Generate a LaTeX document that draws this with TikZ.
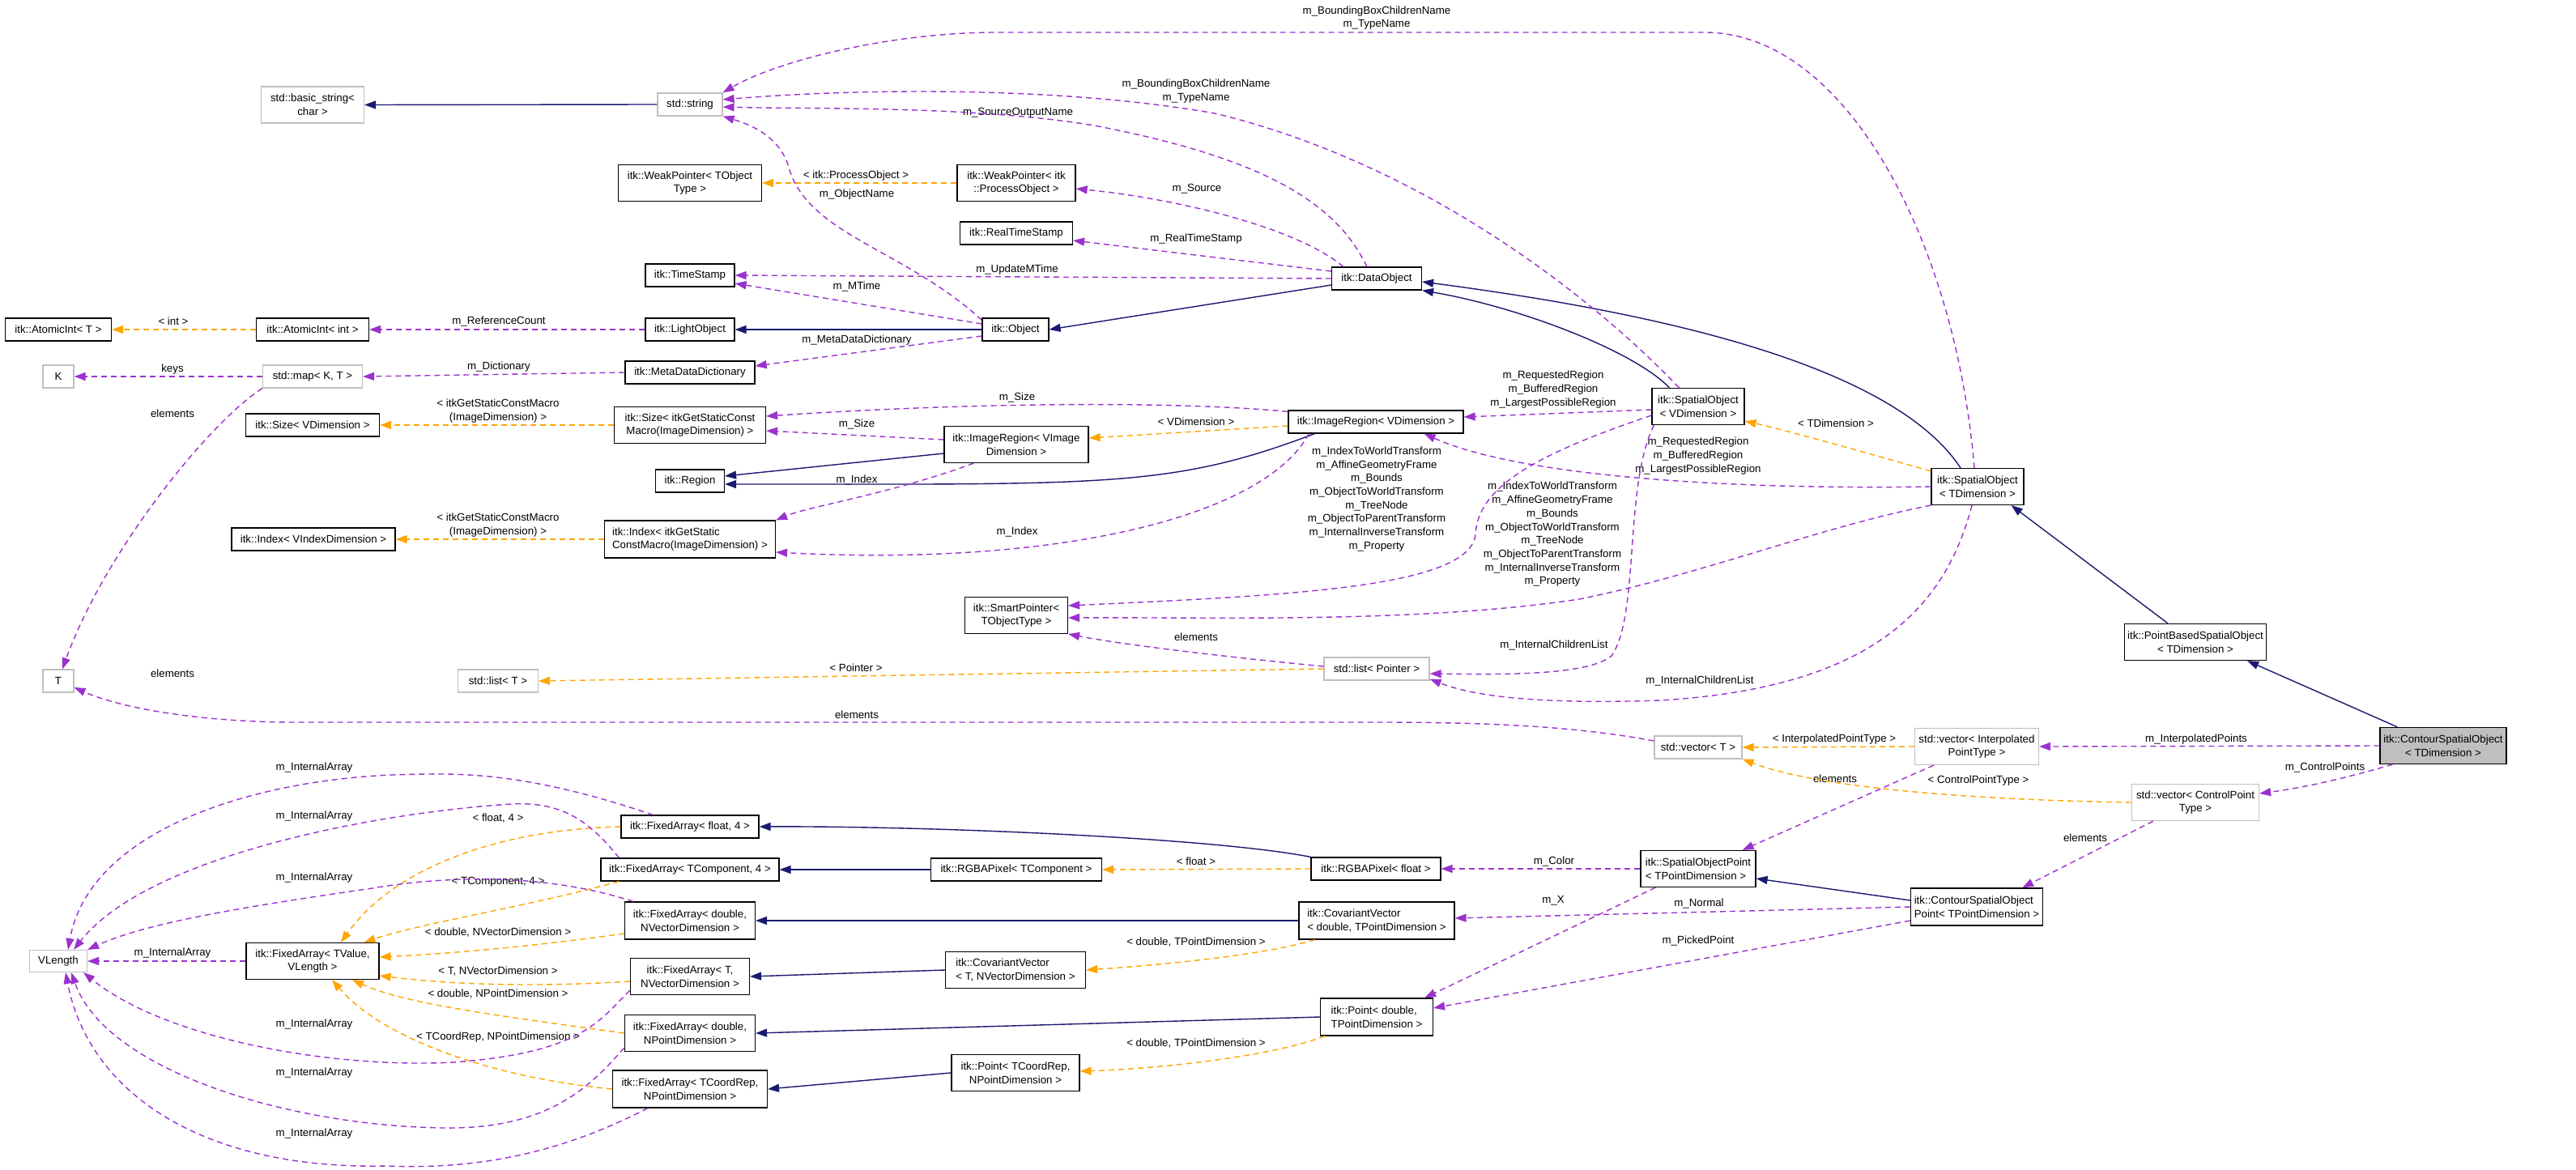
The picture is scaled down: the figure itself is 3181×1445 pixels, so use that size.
\documentclass[tikz,border=0pt]{standalone}
\usepackage{fontspec}
\setmainfont{Liberation Sans}
\usetikzlibrary{arrows.meta,calc}
\definecolor{navy}{HTML}{191970}
\definecolor{orng}{HTML}{FFA500}
\definecolor{purp}{HTML}{9A32CD}
\definecolor{gb}{HTML}{BFBFBF}
\newcommand\cls[6][]{\node[box,#1,minimum width=#4pt,minimum height=#5pt] (#2) at (#3) {#6};}
\newcommand\lbl[3]{\node[lab] (#1) at (#2) {#3};}
\begin{document}
\begin{tikzpicture}[x=1pt,y=-1pt,
  font=\fontsize{13.3}{16.7}\selectfont,
  box/.style={draw=black,line width=1.2pt,inner sep=0pt,align=center,fill=white},
  gbox/.style={draw=gb},
  lft/.style={align=left},
  lab/.style={inner sep=0pt,align=center},
  tip/.style={-{Triangle[length=14pt,width=10pt]}},
  inh/.style={draw=navy,line width=1.4pt,tip},
  tpl/.style={draw=orng,line width=1.4pt,dash pattern=on 7pt off 5pt,tip},
  usg/.style={draw=purp,line width=1.4pt,dash pattern=on 7pt off 5pt,tip}]
\fill[white] (0,0) rectangle (3181,1445);
\useasboundingbox (0,0) rectangle (3181,1445);

% nodes
\cls[gbox]{bstr}{386,129.5}{127}{45}{std::basic\_string<\\char >}
\cls[gbox]{str}{852,129}{80}{28}{std::string}
\cls{wpT}{852,226}{177}{45}{itk::WeakPointer< TObject\\Type >}
\cls{wpP}{1255,226}{146}{45}{itk::WeakPointer< itk\\::ProcessObject >}
\cls{rts}{1255,288}{139}{28}{itk::RealTimeStamp}
\cls{ts}{852,340}{110}{28}{itk::TimeStamp}
\cls{dobj}{1700,344}{111}{28}{itk::DataObject}
\cls{aiT}{72,407}{131}{28}{itk::AtomicInt< T >}
\cls{aiI}{386,407}{139}{28}{itk::AtomicInt< int >}
\cls{lo}{852,407}{110}{28}{itk::LightObject}
\cls{obj}{1254,407}{82}{28}{itk::Object}
\cls[gbox]{K}{72,465}{38}{28}{K}
\cls[gbox]{map}{386,465}{123}{28}{std::map< K, T >}
\cls{mdd}{852,460}{160}{28}{itk::MetaDataDictionary}
\cls{soV}{2097,502}{114}{45}{itk::SpatialObject\\< VDimension >}
\cls{sizeV}{386,525}{165}{28}{itk::Size< VDimension >}
\cls{sizeM}{852,525}{187}{45}{itk::Size< itkGetStaticConst\\Macro(ImageDimension) >}
\cls{irV}{1699,521}{216}{28}{itk::ImageRegion< VDimension >}
\cls{irI}{1255,549}{178}{45}{itk::ImageRegion< VImage\\Dimension >}
\cls{region}{852,594}{85}{28}{itk::Region}
\cls{soT}{2442,601}{114}{45}{itk::SpatialObject\\< TDimension >}
\cls{idxV}{387,666}{202}{28}{itk::Index< VIndexDimension >}
\cls[lft]{idxM}{852,666}{211}{46}{itk::Index< itkGetStatic\\ConstMacro(ImageDimension) >}
\cls{sp}{1255,760}{127}{45}{itk::SmartPointer<\\TObjectType >}
\cls{pbso}{2711,793}{175}{45}{itk::PointBasedSpatialObject\\< TDimension >}
\cls[gbox]{lstP}{1700,826}{130}{28}{std::list< Pointer >}
\cls[gbox]{T}{72,841}{38}{28}{T}
\cls[gbox]{lstT}{615,841}{99}{28}{std::list< T >}
\cls[gbox]{vecT}{2097,923}{108}{28}{std::vector< T >}
\cls[gbox]{vecI}{2441,922}{153}{45}{std::vector< Interpolated\\PointType >}
\cls[fill=gb]{cso}{3017,921}{156}{45}{itk::ContourSpatialObject\\< TDimension >}
\cls[gbox]{vecC}{2711,991}{157}{45}{std::vector< ControlPoint\\Type >}
\cls{fa4}{852,1021}{170}{28}{itk::FixedArray< float, 4 >}
\cls{faTC}{852,1074}{220}{28}{itk::FixedArray< TComponent, 4 >}
\cls{rgbT}{1255,1074}{211}{28}{itk::RGBAPixel< TComponent >}
\cls{rgbF}{1699,1073}{160}{28}{itk::RGBAPixel< float >}
\cls[lft]{sop}{2097,1073}{142}{45}{itk::SpatialObjectPoint\\< TPointDimension >}
\cls{faDV}{852,1137}{161}{46}{itk::FixedArray< double,\\NVectorDimension >}
\cls[lft]{cvD}{1700,1137}{192}{46}{itk::CovariantVector\\< double, TPointDimension >}
\cls[lft]{csop}{2441,1120}{163}{46}{itk::ContourSpatialObject\\Point< TPointDimension >}
\cls[gbox]{VLength}{72,1187}{71}{27}{VLength}
\cls{faTV}{386,1187}{164}{45}{itk::FixedArray< TValue,\\VLength >}
\cls[lft]{cvT}{1254,1198}{173}{45}{itk::CovariantVector\\< T, NVectorDimension >}
\cls{faTN}{852,1206}{147}{45}{itk::FixedArray< T,\\NVectorDimension >}
\cls[lft]{ptD}{1700,1256}{139}{46}{itk::Point< double,\\TPointDimension >}
\cls{faDP}{852,1276}{161}{45}{itk::FixedArray< double,\\NPointDimension >}
\cls{ptC}{1254,1325}{158}{45}{itk::Point< TCoordRep,\\NPointDimension >}
\cls{faCP}{852,1345}{191}{46}{itk::FixedArray< TCoordRep,\\NPointDimension >}

% labels
\lbl{la}{1700,22}{m\_BoundingBoxChildrenName\\m\_TypeName}
\lbl{lb}{1477,112.5}{m\_BoundingBoxChildrenName\\m\_TypeName}
\lbl{lc}{1257,139}{m\_SourceOutputName}
\lbl{ld1}{1057,217}{< itk::ProcessObject >}
\lbl{ld2}{1058,240}{m\_ObjectName}
\lbl{le}{1478,233}{m\_Source}
\lbl{lf}{1477,295}{m\_RealTimeStamp}
\lbl{lg}{1256,333}{m\_UpdateMTime}
\lbl{lh}{1058,354}{m\_MTime}
\lbl{li1}{214,397}{< int >}
\lbl{li2}{616,397}{m\_ReferenceCount}
\lbl{lj}{1058,420}{m\_MetaDataDictionary}
\lbl{lk}{213,456}{keys}
\lbl{ll}{616,453}{m\_Dictionary}
\lbl{lm}{1918,481}{m\_RequestedRegion\\m\_BufferedRegion\\m\_LargestPossibleRegion}
\lbl{ln}{1256,491}{m\_Size}
\lbl{lo2}{213,511}{elements}
\lbl{lp}{615,507.5}{< itkGetStaticConstMacro\\(ImageDimension) >}
\lbl{lq}{1058,524}{m\_Size}
\lbl{lr}{1477,521}{< VDimension >}
\lbl{ls}{2267,523}{< TDimension >}
\lbl{lt}{2097,563}{m\_RequestedRegion\\m\_BufferedRegion\\m\_LargestPossibleRegion}
\lbl{lu}{1058,593}{m\_Index}
\lbl{lv}{615,648.5}{< itkGetStaticConstMacro\\(ImageDimension) >}
\lbl{lw}{1256,657}{m\_Index}
\lbl{lx}{1700,616.5}{m\_IndexToWorldTransform\\m\_AffineGeometryFrame\\m\_Bounds\\m\_ObjectToWorldTransform\\m\_TreeNode\\m\_ObjectToParentTransform\\m\_InternalInverseTransform\\m\_Property}
\lbl{ly}{1917,660}{m\_IndexToWorldTransform\\m\_AffineGeometryFrame\\m\_Bounds\\m\_ObjectToWorldTransform\\m\_TreeNode\\m\_ObjectToParentTransform\\m\_InternalInverseTransform\\m\_Property}
\lbl{lz}{1477,787}{elements}
\lbl{laa}{1919,797}{m\_InternalChildrenList}
\lbl{lab}{1057,825}{< Pointer >}
\lbl{lac}{213,832}{elements}
\lbl{lad}{2099,841}{m\_InternalChildrenList}
\lbl{lae}{1058,883}{elements}
\lbl{laf}{2712,913}{m\_InterpolatedPoints}
\lbl{lag}{2265,913}{< InterpolatedPointType >}
\lbl{lah}{2871,948}{m\_ControlPoints}
\lbl{lai}{388,948}{m\_InternalArray}
\lbl{laj}{2266,962}{elements}
\lbl{lak}{2443,964}{< ControlPointType >}
\lbl{lal}{388,1008}{m\_InternalArray}
\lbl{lam}{615,1011}{< float, 4 >}
\lbl{lan}{2575,1035}{elements}
\lbl{lao}{1477,1064}{< float >}
\lbl{lap}{1919,1064}{m\_Color}
\lbl{laq}{388,1084}{m\_InternalArray}
\lbl{lar}{615,1089}{< TComponent, 4 >}
\lbl{las}{1918,1112}{m\_X}
\lbl{lat}{2098,1116}{m\_Normal}
\lbl{lau}{615,1152}{< double, NVectorDimension >}
\lbl{lav}{2097,1162}{m\_PickedPoint}
\lbl{law}{1477,1164}{< double, TPointDimension >}
\lbl{lax}{213,1177}{m\_InternalArray}
\lbl{lay}{615,1200}{< T, NVectorDimension >}
\lbl{laz}{615,1228}{< double, NPointDimension >}
\lbl{lba}{388,1265}{m\_InternalArray}
\lbl{lbb}{615,1281}{< TCoordRep, NPointDimension >}
\lbl{lbc}{1477,1289}{< double, TPointDimension >}
\lbl{lbd}{388,1325}{m\_InternalArray}
\lbl{lbe}{388,1400}{m\_InternalArray}

% inheritance
\draw[inh] (str.west) -- (bstr.east);
\draw[inh] (obj.west) -- (lo.east);
\draw[inh] ($(dobj.west)+(0,8)$) -- (obj.east);
\draw[inh] ($(soV.north west)+(22,0)$) .. controls (2020,435) and (1880,380) .. (dobj.south east);
\draw[inh] ($(soT.north)+(-21,0)$) .. controls (2330,440) and (2000,380) .. ($(dobj.east)+(0,4)$);
\draw[inh] ($(pbso.north)+(-34,0)$) -- ($(soT.south east)+(-16,0)$);
\draw[inh] ($(cso.north west)+(22,0)$) -- ($(pbso.south east)+(-24,0)$);
\draw[inh] ($(irI.west)+(0,11)$) -- ($(region.east)+(0,-6)$);
\draw[inh] ($(irV.south west)+(33,0)$) .. controls (1480,590) and (1400,597) .. (1140,598) -- ($(region.east)+(0,4)$);
\draw[inh] (rgbT.west) -- (faTC.east);
\draw[inh] (rgbF.north west) .. controls (1500,1035) and (1150,1020) .. (fa4.east);
\draw[inh] (cvD.west) -- (faDV.east);
\draw[inh] (cvT.west) -- (faTN.east);
\draw[inh] (ptD.west) -- (faDP.east);
\draw[inh] (ptC.west) -- (faCP.east);
\draw[inh] ($(csop.west)+(0,-8)$) -- ($(sop.east)+(0,12)$);

% template instances
\draw[tpl] (wpP.west) -- (wpT.east);
\draw[tpl] (aiI.west) -- (aiT.east);
\draw[tpl] (sizeM.west) -- (sizeV.east);
\draw[tpl] (idxM.west) -- (idxV.east);
\draw[tpl] ($(irV.west)+(0,5)$) -- ($(irI.east)+(0,-8)$);
\draw[tpl] ($(soT.north west)+(0,4)$) .. controls (2290,555) and (2200,530) .. ($(soV.south east)+(0,-5)$);
\draw[tpl] (lstP.west) -- (lstT.east);
\draw[tpl] (vecI.west) -- (vecT.east);
\draw[tpl] (vecC.west) .. controls (2450,988) and (2250,975) .. (vecT.south east);
\draw[tpl] (rgbF.west) -- (rgbT.east);
\draw[tpl] ($(cvD.south west)+(20,0)$) .. controls (1560,1180) and (1430,1192) .. (cvT.east);
\draw[tpl] ($(ptD.south west)+(6,0)$) .. controls (1570,1305) and (1430,1320) .. ($(ptC.east)+(0,-2)$);
\draw[tpl] (fa4.west) .. controls (600,1025) and (480,1080) .. ($(faTV.north)+(35,0)$);
\draw[tpl] ($(faTC.south west)+(23,0)$) .. controls (650,1120) and (520,1140) .. ($(faTV.north east)+(-19,0)$);
\draw[tpl] ($(faDV.west)+(0,16)$) .. controls (650,1170) and (550,1178) .. ($(faTV.east)+(0,-5)$);
\draw[tpl] ($(faTN.west)+(0,6)$) .. controls (650,1220) and (550,1215) .. ($(faTV.east)+(0,18)$);
\draw[tpl] (faDP.west) .. controls (620,1255) and (500,1240) .. ($(faTV.south)+(49,0)$);
\draw[tpl] (faCP.west) .. controls (600,1330) and (470,1280) .. ($(faTV.south)+(24,0)$);

% usage
\draw[usg] ($(soT.north)+(-4,0)$) .. controls (2415,300) and (2280,40) .. (2105,40) -- (1231,40) .. controls (1100,40) and (960,75) .. (str.north east);
\draw[usg] ($(soV.north west)+(34,0)$) .. controls (1960,360) and (1750,200) .. (1500,140) .. controls (1300,105) and (1050,110) .. ($(str.east)+(0,-6)$);
\draw[usg] ($(dobj.north west)+(44,0)$) .. controls (1650,250) and (1560,195) .. (1351,155) .. controls (1200,130) and (1000,135) .. ($(str.east)+(0,3)$);
\draw[usg] ($(obj.north west)+(0,3)$) .. controls (1120,310) and (1000,290) .. (975,210) .. controls (965,170) and (930,155) .. (str.south east);
\draw[usg] ($(dobj.north west)+(15,0)$) .. controls (1600,280) and (1450,245) .. ($(wpP.east)+(0,7)$);
\draw[usg] ($(dobj.west)+(0,-9)$) -- ($(rts.east)+(0,9)$);
\draw[usg] (dobj.west) -- (ts.east);
\draw[usg] ($(obj.west)+(0,-7)$) -- ($(ts.east)+(0,10)$);
\draw[usg] ($(obj.west)+(0,8)$) -- ($(mdd.east)+(0,-8)$);
\draw[usg] (lo.west) -- (aiI.east);
\draw[usg] (mdd.west) -- (map.east);
\draw[usg] (map.west) -- (K.east);
\draw[usg] (map.south west) .. controls (260,520) and (130,680) .. ($(T.north)+(5,0)$);
\draw[usg] ($(irV.north west)+(0,2)$) .. controls (1450,495) and (1200,497) .. ($(sizeM.east)+(0,-11)$);
\draw[usg] ($(irI.west)+(0,-6)$) -- ($(sizeM.east)+(0,7)$);
\draw[usg] ($(irI.south west)+(37,0)$) .. controls (1100,610) and (1000,625) .. (idxM.north east);
\draw[usg] ($(irV.south west)+(26,0)$) .. controls (1560,640) and (1300,700) .. ($(idxM.east)+(0,16)$);
\draw[usg] ($(soV.west)+(0,4)$) -- ($(irV.east)+(0,-6)$);
\draw[usg] (soT.west) .. controls (2150,605) and (1880,590) .. ($(irV.south east)+(-49,0)$);
\draw[usg] ($(soV.west)+(0,11)$) .. controls (1900,560) and (1825,600) .. (1822,660) .. controls (1815,725) and (1600,735) .. ($(sp.east)+(0,-12)$);
\draw[usg] (soT.south west) .. controls (2250,650) and (2100,710) .. (1950,740) .. controls (1750,770) and (1500,762) .. ($(sp.east)+(0,3)$);
\draw[usg] ($(soV.south west)+(3,0)$) .. controls (2005,600) and (2025,760) .. (1990,810) .. controls (1960,835) and (1850,833) .. ($(lstP.east)+(0,6)$);
\draw[usg] ($(soT.south)+(-7,0)$) .. controls (2400,760) and (2300,850) .. (2050,865) .. controls (1900,870) and (1820,860) .. ($(lstP.south east)+(0,-2)$);
\draw[usg] ($(lstP.west)+(0,-3)$) .. controls (1500,810) and (1380,795) .. (sp.south east);
\draw[usg] ($(vecT.west)+(0,-8)$) .. controls (1950,898) and (1850,892) .. (1700,892) -- (365,892) .. controls (250,892) and (150,875) .. ($(T.east)+(0,8)$);
\draw[usg] (cso.west) -- (vecI.east);
\draw[usg] ($(cso.south west)+(16,0)$) .. controls (2900,960) and (2850,972) .. ($(vecC.east)+(0,-11)$);
\draw[usg] ($(vecI.south west)+(24,0)$) -- ($(sop.north east)+(-17,0)$);
\draw[usg] ($(vecC.south west)+(27,0)$) -- ($(csop.north east)+(-26,0)$);
\draw[usg] (sop.west) -- (rgbF.east);
\draw[usg] ($(sop.south west)+(19,0)$) -- ($(ptD.north east)+(-11,0)$);
\draw[usg] (csop.west) -- ($(cvD.east)+(0,-3)$);
\draw[usg] ($(csop.west)+(0,17)$) -- ($(ptD.east)+(0,-11)$);
\draw[usg] (faTV.west) -- (VLength.east);
\draw[usg] ($(fa4.north west)+(40,0)$) .. controls (640,950) and (560,955) .. (484,957) .. controls (300,965) and (110,1030) .. ($(VLength.north)+(12,0)$);
\draw[usg] ($(faTC.north west)+(23,0)$) .. controls (725,1010) and (690,990) .. (631,993) .. controls (450,1005) and (180,1060) .. ($(VLength.north)+(19,0)$);
\draw[usg] ($(faDV.north west)+(11,0)$) .. controls (680,1080) and (560,1080) .. (460,1097) .. controls (300,1120) and (180,1140) .. (VLength.north east);
\draw[usg] ($(faTN.south west)+(0,-6)$) .. controls (740,1260) and (720,1300) .. (560,1312) .. controls (400,1320) and (200,1280) .. ($(VLength.south east)+(-5,0)$);
\draw[usg] ($(faDP.south west)+(0,-5)$) .. controls (730,1340) and (680,1395) .. (547,1393) .. controls (350,1390) and (130,1320) .. ($(VLength.south)+(16,0)$);
\draw[usg] ($(faCP.south west)+(44,0)$) .. controls (700,1420) and (600,1445) .. (477,1440) .. controls (250,1445) and (110,1350) .. ($(VLength.south)+(9,0)$);
\end{tikzpicture}
\end{document}
